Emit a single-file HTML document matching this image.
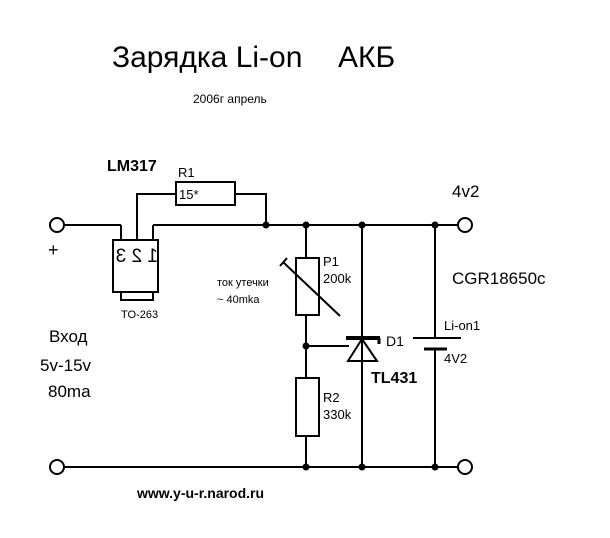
<!DOCTYPE html>
<html><head><meta charset="utf-8"><style>
html,body{margin:0;padding:0;background:#fff;}
svg{display:block;}
text{font-family:"Liberation Sans","DejaVu Sans",sans-serif;fill:#000;}
</style></head><body>
<svg width="610" height="538" viewBox="0 0 610 538" xmlns="http://www.w3.org/2000/svg">
<g stroke="#000" stroke-width="2" fill="none">
<line x1="64" y1="225" x2="121" y2="225"/>
<line x1="121" y1="225" x2="121" y2="240"/>
<line x1="153" y1="240" x2="153" y2="225"/>
<line x1="153" y1="225" x2="458" y2="225"/>
<polyline points="137,240 137,194 176,194"/>
<rect x="176" y="182" width="59" height="23"/>
<polyline points="235,194 266,194 266,225"/>
<rect x="113" y="240" width="45" height="52"/>
<rect x="121" y="292" width="32" height="8"/>
<line x1="64" y1="467" x2="458" y2="467"/>
<line x1="306" y1="225" x2="306" y2="258"/>
<rect x="296" y="258" width="23" height="57"/>
<line x1="306" y1="315" x2="306" y2="378"/>
<rect x="296" y="378" width="23" height="58"/>
<line x1="306" y1="436" x2="306" y2="467"/>
<line x1="283" y1="262" x2="340" y2="316"/>
<line x1="280" y1="266" x2="287" y2="258"/>
<line x1="306" y1="346" x2="349" y2="346"/>
<line x1="362" y1="225" x2="362" y2="467"/>
<polygon points="362,339 348,361 377,361"/>
</g>
<line x1="346" y1="338" x2="380" y2="338" stroke="#000" stroke-width="4"/>
<line x1="379" y1="338" x2="379" y2="344" stroke="#000" stroke-width="3"/>
<g stroke="#000" stroke-width="2">
<line x1="435" y1="225" x2="435" y2="338"/>
<line x1="413" y1="338" x2="461" y2="338"/>
<line x1="424" y1="349" x2="447" y2="349" stroke-width="3"/>
<line x1="435" y1="349" x2="435" y2="467"/>
</g>
<g fill="#000">
<circle cx="266" cy="225" r="3.5"/><circle cx="306" cy="225" r="3.5"/>
<circle cx="362" cy="225" r="3.5"/><circle cx="435" cy="225" r="3.5"/>
<circle cx="306" cy="346" r="3.5"/>
<circle cx="306" cy="467" r="3.5"/><circle cx="362" cy="467" r="3.5"/><circle cx="435" cy="467" r="3.5"/>
</g>
<g fill="#fff" stroke="#000" stroke-width="2">
<circle cx="57" cy="225" r="7"/><circle cx="57" cy="467" r="7"/>
<circle cx="465" cy="225" r="7"/><circle cx="465" cy="467" r="7"/>
</g>
<text x="112" y="67" font-size="30">Зарядка Li-on</text>
<text x="338" y="67" font-size="30">АКБ</text>
<text x="193" y="103" font-size="12">2006г апрель</text>
<text x="107" y="171" font-size="16" font-weight="bold">LM317</text>
<text x="178" y="177" font-size="13">R1</text>
<text x="179" y="199" font-size="13">15*</text>
<text x="48" y="256" font-size="18">+</text>
<text transform="translate(158,262) scale(-1,1)" font-size="19" x="0" y="0">1 2 3</text>
<text x="121" y="318" font-size="11">TO-263</text>
<text x="217" y="286" font-size="11">ток утечки</text>
<text x="217" y="303" font-size="11">~ 40mka</text>
<text x="323" y="266" font-size="13">P1</text>
<text x="323" y="283" font-size="13">200k</text>
<text x="323" y="402" font-size="13">R2</text>
<text x="323" y="419" font-size="13">330k</text>
<text x="386" y="346" font-size="14">D1</text>
<text x="371" y="383" font-size="16" font-weight="bold">TL431</text>
<text x="444" y="330" font-size="13">Li-on1</text>
<text x="444" y="363" font-size="13">4V2</text>
<text x="452" y="284" font-size="17">CGR18650c</text>
<text x="452" y="197" font-size="17">4v2</text>
<text x="49" y="342" font-size="17">Вход</text>
<text x="40" y="371" font-size="17">5v-15v</text>
<text x="48" y="397" font-size="17">80ma</text>
<text x="137" y="498" font-size="14" font-weight="bold">www.y-u-r.narod.ru</text>
</svg>
</body></html>
